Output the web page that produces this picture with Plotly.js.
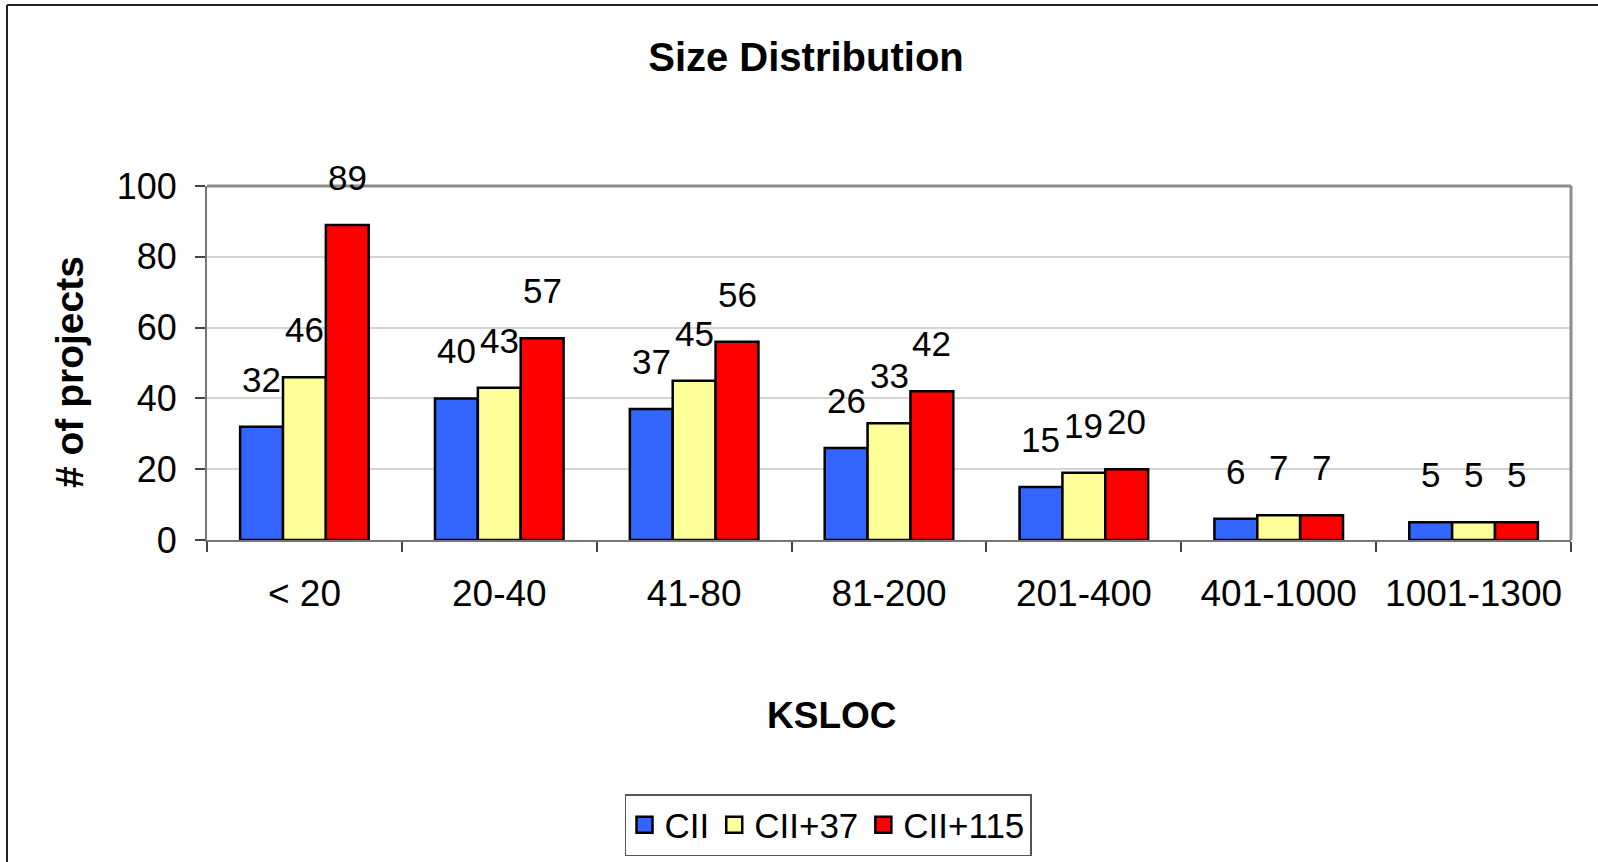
<!DOCTYPE html>
<html><head><meta charset="utf-8">
<script src="https://cdn.plot.ly/plotly-3.0.1.min.js"></script>
<style>html,body{margin:0;padding:0;background:#fff;}#chart{width:1598px;height:862px;}</style>
</head><body><div id="chart"></div>
<script>
// ---- data ----
const categories = ['< 20', '20-40', '41-80', '81-200', '201-400', '401-1000', '1001-1300'];
const seriesNames = ['CII', 'CII+37', 'CII+115'];
const cii = [32, 40, 37, 26, 15, 6, 5];
const cii37 = [46, 43, 45, 33, 19, 7, 5];
const cii115 = [89, 57, 56, 42, 20, 7, 5];
const yTicks = [0, 20, 40, 60, 80, 100];

// ---- style ----
const colors = ['#3366FF', '#FFFF99', '#FF0000'];
const FONT = '"Liberation Sans", Arial, sans-serif';
const seriesValues = [cii, cii37, cii115];
const BARGAP = 0.34;
const barW = (1 - BARGAP) / seriesValues.length;

const W = 1598, H = 862;
const M = {l: 207, r: 27, t: 186, b: 322};
const PW = W - M.l - M.r, PH = H - M.t - M.b;
const px2x = p => (p - M.l) / PW;
const py2y = p => (H - M.b - p) / PH;

const barTraces = seriesValues.map((vals, i) => ({
  type: 'bar', name: seriesNames[i], x: categories, y: vals,
  legendgroup: seriesNames[i], showlegend: false,
  marker: {color: colors[i], line: {color: '#000', width: 2.5}},
  hovertemplate: '%{x}: %{y}<extra>' + seriesNames[i] + '</extra>'
}));
// legend entries (larger square keys, no marks on the plot)
const legendTraces = seriesNames.map((name, i) => ({
  type: 'scatter', mode: 'markers', name: name, x: [null], y: [null],
  legendgroup: name, showlegend: true, hoverinfo: 'skip',
  marker: {symbol: 'square', size: 16, color: colors[i], line: {color: '#000', width: 2.5}}
}));

const annotations = [];
seriesValues.forEach((vals, i) => {
  vals.forEach((v, j) => {
    annotations.push({
      xref: 'x', yref: 'y', x: j + (i - 1) * barW, y: v, text: String(v),
      showarrow: false, xanchor: 'center', yanchor: 'bottom', yshift: 26,
      font: {family: FONT, size: 35, color: '#000'}
    });
  });
});
annotations.push({
  xref: 'paper', yref: 'paper', x: px2x(69), y: py2y(372), text: '<b># of projects</b>',
  textangle: -90, showarrow: false, xanchor: 'center', yanchor: 'middle',
  font: {family: FONT, size: 39, color: '#000'}
});
annotations.push({
  xref: 'paper', yref: 'paper', x: px2x(832), y: py2y(715), text: '<b>KSLOC</b>',
  showarrow: false, xanchor: 'center', yanchor: 'middle',
  font: {family: FONT, size: 37, color: '#000'}
});

const shapes = [
  // plot frame top and right
  {type: 'line', xref: 'paper', yref: 'paper', x0: 0, x1: 1, y0: 1, y1: 1, line: {color: '#8c8c8c', width: 3}},
  {type: 'line', xref: 'paper', yref: 'paper', x0: 1, x1: 1, y0: 0, y1: 1, line: {color: '#8c8c8c', width: 3}},
  // outer chart frame
  {type: 'line', xref: 'paper', yref: 'paper', x0: px2x(7), x1: px2x(1600), y0: py2y(5), y1: py2y(5), line: {color: '#222', width: 2}},
  {type: 'line', xref: 'paper', yref: 'paper', x0: px2x(7), x1: px2x(7), y0: py2y(5), y1: py2y(870), line: {color: '#222', width: 2}}
];

const layout = {
  width: W, height: H,
  margin: {l: M.l, r: M.r, t: M.t, b: M.b, autoexpand: false},
  paper_bgcolor: '#fff', plot_bgcolor: '#fff',
  font: {family: FONT, size: 35, color: '#000'},
  title: {
    text: '<b>Size Distribution</b>', font: {family: FONT, size: 40, color: '#000'},
    xref: 'container', yref: 'container', x: 806 / W, y: 1 - 57 / H, xanchor: 'center', yanchor: 'middle'
  },
  barmode: 'group', bargap: BARGAP, bargroupgap: 0,
  showlegend: true,
  legend: {
    orientation: 'h', xref: 'paper', yref: 'paper', x: px2x(828), xanchor: 'center', y: py2y(794), yanchor: 'top',
    bordercolor: '#555', borderwidth: 1.5, bgcolor: '#fff',
    font: {family: FONT, size: 35, color: '#000'}
  },
  xaxis: {
    type: 'category', automargin: false,
    showline: true, linecolor: '#777', linewidth: 2,
    ticks: 'outside', tickson: 'boundaries', ticklen: 10, tickcolor: '#444', tickwidth: 1.5,
    ticklabelstandoff: 20,
    tickfont: {family: FONT, size: 37, color: '#000'},
    showgrid: false, zeroline: false
  },
  yaxis: {
    range: [0, 100], tickvals: yTicks, automargin: false,
    showline: true, linecolor: '#777', linewidth: 2,
    ticks: 'outside', ticklen: 10, tickcolor: '#444', tickwidth: 1.5,
    ticklabelstandoff: 11,
    tickfont: {family: FONT, size: 36, color: '#000'},
    showgrid: true, gridcolor: '#d4d4d4', gridwidth: 1.5, zeroline: false
  },
  annotations: annotations,
  shapes: shapes
};

Plotly.newPlot('chart', barTraces.concat(legendTraces), layout, {displayModeBar: false, responsive: false});
</script>
</body></html>
